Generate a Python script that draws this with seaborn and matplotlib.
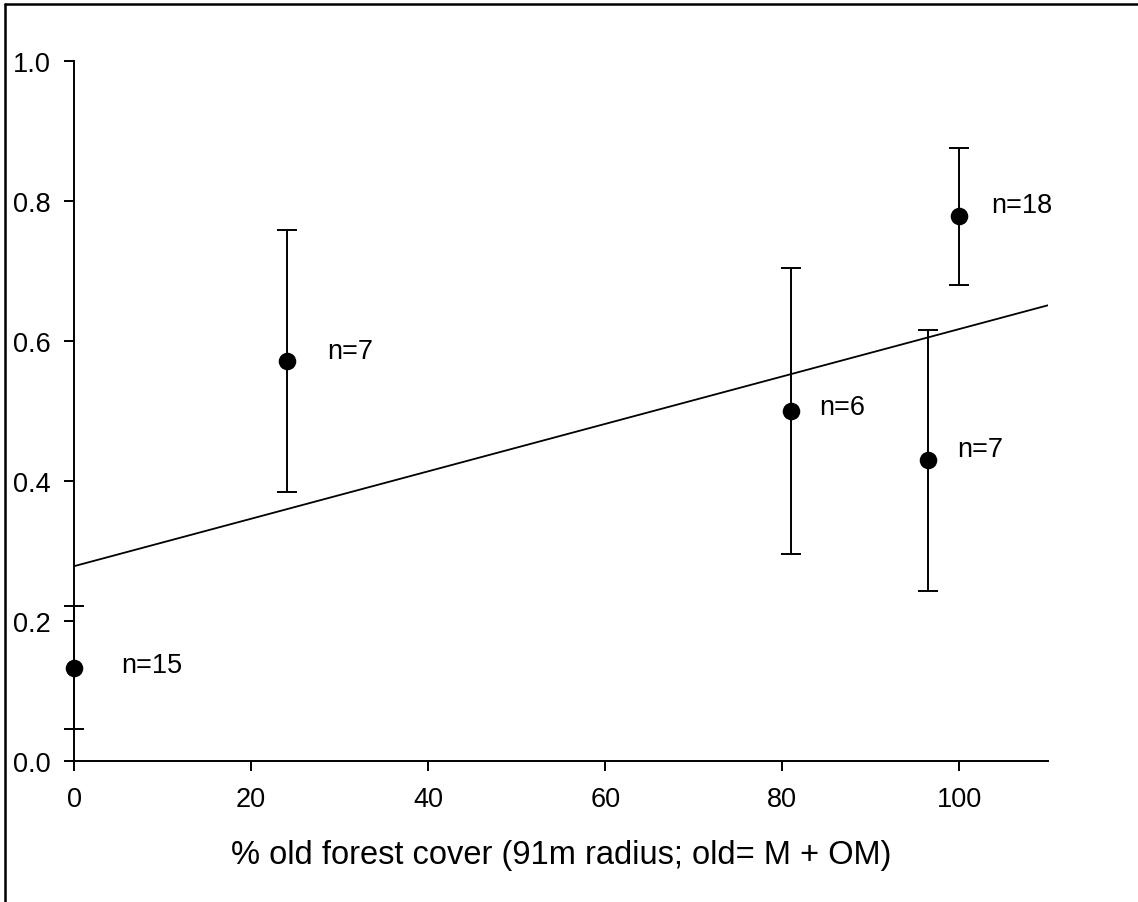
import matplotlib
matplotlib.use("Agg")
import matplotlib.pyplot as plt
import seaborn as sns
import pandas as pd
from matplotlib.lines import Line2D

# ---- data ----
forest_cover = [0, 24, 81, 96.5, 100]
proportion = [0.133, 0.571, 0.500, 0.429, 0.778]
error = [0.088, 0.187, 0.204, 0.187, 0.098]
n_labels = ["n=15", "n=7", "n=6", "n=7", "n=18"]

# label offsets (styling, in points)
label_dx = [34, 29, 20, 21, 23]
label_dy = [2, 7, 3, 8, 8]

df = pd.DataFrame({"x": forest_cover, "y": proportion, "err": error})

sns.set_theme(style="ticks")
plt.rcParams["font.family"] = ["Liberation Sans", "DejaVu Sans"]
plt.rcParams["text.color"] = "black"
plt.rcParams["axes.labelcolor"] = "black"
plt.rcParams["xtick.color"] = "black"
plt.rcParams["ytick.color"] = "black"

fig = plt.figure(figsize=(11.38, 9.03), dpi=100)
ax = fig.add_axes([74 / 1138, 1 - 761.7 / 903, (1048 - 74) / 1138, 700 / 903])
ax.set_xlim(0, 110)
ax.set_ylim(0, 1.0)

# error bars
eb = ax.errorbar(df["x"], df["y"], yerr=df["err"], fmt="none", ecolor="black",
                 elinewidth=1.4, capsize=7.5, capthick=1.4, zorder=2)
for art in list(eb.lines[1]) + list(eb.lines[2]):
    art.set_clip_on(False)

# regression line
sns.regplot(data=df, x="x", y="y", scatter=False, ci=None, truncate=False, ax=ax,
            line_kws=dict(color="black", lw=1.3, zorder=3))
ax.set_xlim(0, 110)
ax.set_ylim(0, 1.0)

# points
sns.scatterplot(data=df, x="x", y="y", ax=ax, color="black", s=160,
                edgecolor="black", linewidth=0, zorder=4, clip_on=False, legend=False)

for xv, yv, lab, dx, dy in zip(forest_cover, proportion, n_labels, label_dx, label_dy):
    ax.annotate(lab, (xv, yv), xytext=(dx, dy), textcoords="offset points",
                ha="left", va="center", fontsize=19.5, color="black")

ax.set_xticks([0, 20, 40, 60, 80, 100])
ax.set_yticks([0.0, 0.2, 0.4, 0.6, 0.8, 1.0])
ax.set_yticklabels(["0.0", "0.2", "0.4", "0.6", "0.8", "1.0"])
ax.tick_params(axis="both", direction="out", length=7.5, width=1.4, colors="black",
               labelsize=19.5, labelcolor="black")
ax.tick_params(axis="x", pad=11)
ax.tick_params(axis="y", pad=9)

ax.set_xlabel("% old forest cover (91m radius; old= M + OM)", fontsize=23.5,
              labelpad=19, color="black")
ax.set_ylabel("")

sns.despine(ax=ax)
for side in ["left", "bottom"]:
    ax.spines[side].set_linewidth(1.4)
    ax.spines[side].set_color("black")

# figure border (left and top)
fig.add_artist(Line2D([5 / 1138, 5 / 1138], [0, 1 - 5 / 903], transform=fig.transFigure,
                      color="black", lw=1.8))
fig.add_artist(Line2D([5 / 1138, 1], [1 - 5 / 903, 1 - 5 / 903], transform=fig.transFigure,
                      color="black", lw=1.8))

fig.savefig("out.png", dpi=100)
